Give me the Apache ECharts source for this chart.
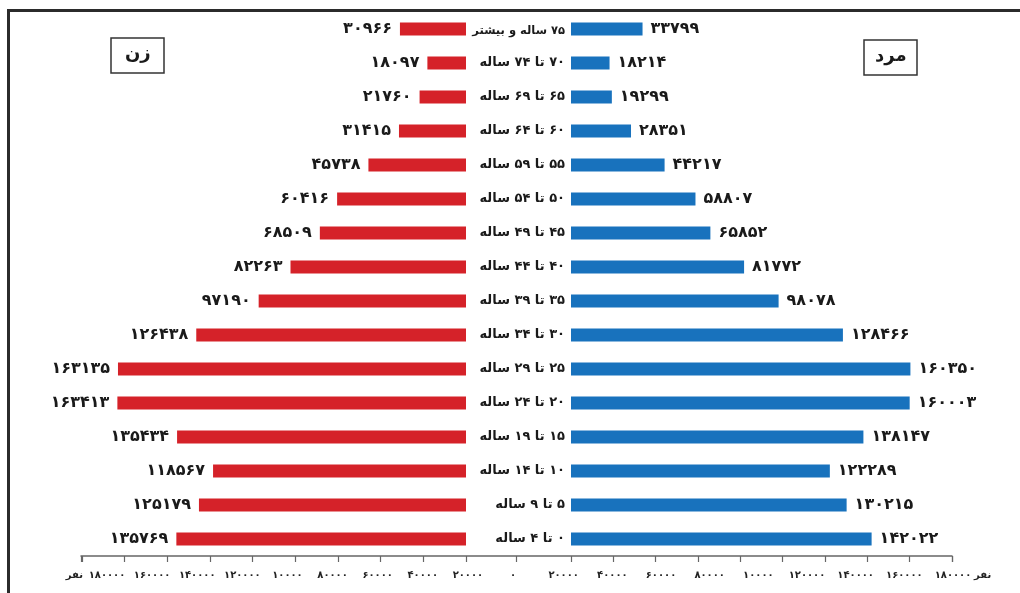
<!DOCTYPE html>
<html>
<head>
<meta charset="utf-8">
<script src="https://cdn.jsdelivr.net/npm/echarts@6/dist/echarts.min.js"></script>
<style>
  html, body { margin: 0; padding: 0; background: #fff; }
  #chart { width: 1020px; height: 593px; }
</style>
</head>
<body>
<div id="chart"></div>
<script>
/* ================================
   DATA
================================ */
const categories = [
  "۰ تا ۴ ساله", "۵ تا ۹ ساله", "۱۰ تا ۱۴ ساله", "۱۵ تا ۱۹ ساله",
  "۲۰ تا ۲۴ ساله", "۲۵ تا ۲۹ ساله", "۳۰ تا ۳۴ ساله", "۳۵ تا ۳۹ ساله",
  "۴۰ تا ۴۴ ساله", "۴۵ تا ۴۹ ساله", "۵۰ تا ۵۴ ساله", "۵۵ تا ۵۹ ساله",
  "۶۰ تا ۶۴ ساله", "۶۵ تا ۶۹ ساله", "۷۰ تا ۷۴ ساله", "۷۵ ساله و بیشتر"
];

const female = [135769, 125179, 118567, 135434, 163413, 163135, 126438, 97190,
                82263, 68509, 60416, 45738, 31415, 21760, 18097, 30966];

const male   = [142022, 130215, 122289, 138147, 160003, 160350, 128466, 98078,
                81772, 65852, 58807, 44217, 28351, 19299, 18214, 33799];

// tick labels as printed (index = value / 20000)
const tickLabels = ["۰", "۲۰۰۰۰", "۴۰۰۰۰", "۶۰۰۰۰", "۸۰۰۰۰",
                    "۱۰۰۰۰", "۱۲۰۰۰۰", "۱۴۰۰۰۰", "۱۶۰۰۰۰", "۱۸۰۰۰۰"];
const unitLabel = "نفر";
const femaleTitle = "زن";
const maleTitle = "مرد";

/* ================================
   HELPERS
================================ */
const RLM = "\u200F";
const FONT = "DejaVu Sans";
const faDigits = "۰۱۲۳۴۵۶۷۸۹";

function toFa(n) {
  return String(n).replace(/\d/g, d => faDigits[d]);
}

const RED  = "#d52229";
const BLUE = "#1872bd";
const TOP = 12, BOTTOM = 37;
const lastCat = categories[categories.length - 1];

const tickLabelStyle = {
  margin: 14, fontFamily: FONT, fontSize: 10, fontWeight: "bold", color: "#222",
  showMinLabel: true, showMaxLabel: true, hideOverlap: false
};
// unit name sits on the label row: 3 lines, only the last one has text
const unitName = "\n\n" + unitLabel;
const unitStyle = {
  fontFamily: FONT, fontSize: 10, fontWeight: "bold", color: "#222",
  lineHeight: 19, verticalAlign: "middle"
};

/* ================================
   CHART
================================ */
const chart = echarts.init(document.getElementById("chart"));

chart.setOption({
  backgroundColor: "#fff",
  animation: false,
  title: [
    {
      text: femaleTitle, left: 111, top: 38,
      borderColor: "#333", borderWidth: 1.5, padding: [7, 14, 10, 14],
      textStyle: { fontFamily: FONT, fontSize: 18, fontWeight: "bold", color: "#1a1a1a" }
    },
    {
      text: maleTitle, left: 864, top: 40,
      borderColor: "#333", borderWidth: 1.5, padding: [7, 11, 10, 11],
      textStyle: { fontFamily: FONT, fontSize: 18, fontWeight: "bold", color: "#1a1a1a" }
    }
  ],
  graphic: [{
    type: "polyline",
    shape: { points: [[8.5, 593], [8.5, 10.5], [1020, 10.5]] },
    style: { stroke: "#2b2b2b", lineWidth: 3, fill: null }
  }],
  grid: [
    { left: 82,  right: 1020 - 466, top: TOP, bottom: BOTTOM },   // female bars
    { left: 571, right: 1020 - 952, top: TOP, bottom: BOTTOM },   // male bars
    { left: 81,  right: 1020 - 952, top: TOP, bottom: BOTTOM },   // base line
    { left: 107, right: 1020 - 513, top: TOP, bottom: BOTTOM },   // left tick labels
    { left: 515, right: 1020 - 953, top: TOP, bottom: BOTTOM }    // right tick labels
  ],
  xAxis: [
    {
      gridIndex: 0, type: "value", inverse: true, min: 0, max: 180000, interval: 20000,
      axisLine: { show: false }, splitLine: { show: false }, axisLabel: { show: false },
      axisTick: { show: true, length: 6, lineStyle: { color: "#666", width: 1.2 } }
    },
    {
      gridIndex: 1, type: "value", min: 0, max: 180000, interval: 20000,
      axisLine: { show: false }, splitLine: { show: false }, axisLabel: { show: false },
      axisTick: { show: true, length: 6, lineStyle: { color: "#666", width: 1.2 } }
    },
    {
      gridIndex: 2, type: "value", min: -1, max: 1, interval: 1,
      axisLine: { show: true, lineStyle: { color: "#666", width: 1.5 } },
      splitLine: { show: false }, axisLabel: { show: false },
      axisTick: { show: true, length: 6, lineStyle: { color: "#666", width: 1.2 } }
    },
    {
      gridIndex: 3, type: "value", inverse: true, min: 0, max: 180000, interval: 20000,
      name: unitName, nameLocation: "end", nameGap: 24, nameMoveOverlap: false,
      nameTextStyle: unitStyle,
      axisLine: { show: false }, axisTick: { show: false }, splitLine: { show: false },
      axisLabel: Object.assign({}, tickLabelStyle, {
        formatter: v => tickLabels[Math.round(v / 20000)]
      })
    },
    {
      gridIndex: 4, type: "value", min: 0, max: 180000, interval: 20000,
      name: unitName, nameLocation: "end", nameGap: 21, nameMoveOverlap: false,
      nameTextStyle: unitStyle,
      axisLine: { show: false }, axisTick: { show: false }, splitLine: { show: false },
      axisLabel: Object.assign({}, tickLabelStyle, {
        formatter: v => v === 0 ? "" : tickLabels[Math.round(v / 20000)]
      })
    }
  ],
  yAxis: [
    {
      gridIndex: 0, type: "category", data: categories,
      axisLine: { show: false }, axisTick: { show: false }, axisLabel: { show: false }
    },
    {
      gridIndex: 1, type: "category", data: categories, z: 5,
      axisLine: { show: false }, axisTick: { show: false },
      axisLabel: {
        margin: 6, fontFamily: FONT, fontSize: 13, fontWeight: "bold", color: "#1a1a1a",
        formatter: v => v === lastCat ? "{s|" + RLM + v + "}" : RLM + v,
        rich: { s: { fontFamily: FONT, fontSize: 11.5, fontWeight: "bold", color: "#1a1a1a", padding: [5, 0, 0, 0] } }
      }
    },
    { gridIndex: 2, type: "category", data: categories, show: false },
    { gridIndex: 3, type: "category", data: categories, show: false },
    { gridIndex: 4, type: "category", data: categories, show: false }
  ],
  series: [
    {
      name: femaleTitle, type: "bar", xAxisIndex: 0, yAxisIndex: 0,
      data: female, barWidth: 13, itemStyle: { color: RED },
      label: {
        show: true, position: "left", distance: 8,
        fontFamily: FONT, fontSize: 16, fontWeight: "bold", color: "#1a1a1a",
        formatter: p => toFa(p.value)
      }
    },
    {
      name: maleTitle, type: "bar", xAxisIndex: 1, yAxisIndex: 1,
      data: male, barWidth: 13, itemStyle: { color: BLUE },
      label: {
        show: true, position: "right", distance: 8,
        fontFamily: FONT, fontSize: 16, fontWeight: "bold", color: "#1a1a1a",
        formatter: p => toFa(p.value)
      }
    }
  ]
});
</script>
</body>
</html>
